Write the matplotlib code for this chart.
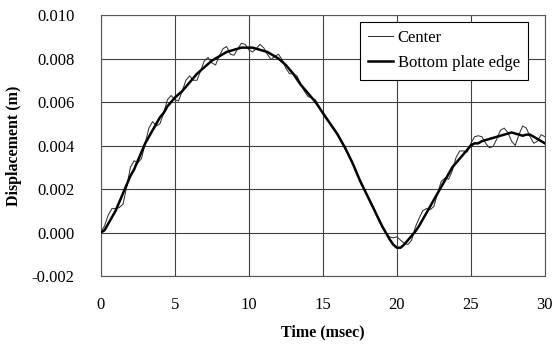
import matplotlib
matplotlib.use("Agg")
import matplotlib.pyplot as plt

# ---- data ----
time_ms = [i * 0.25 for i in range(121)]

edge_e4 = [0, 1, 4, 7, 10, 14, 18, 22, 26, 29,
           33, 37, 41, 44, 47, 50, 53, 55, 58, 60,
           62, 63.5, 65, 67, 69, 71, 73, 74.5, 76, 77.5,
           79, 80, 81, 82, 83, 83.5, 84, 84.5, 85, 85,
           85, 85, 84.5, 84, 83.5, 83, 82, 81, 80, 78.5,
           77, 75, 73, 70.5, 68, 66, 64, 62, 60, 57.5,
           55, 52.5, 50, 47.5, 45, 42, 39, 35.5, 32, 28,
           24, 20.5, 17, 13.5, 10, 6.5, 3, 0, -3, -5.5,
           -7, -7, -5.5, -3.5, -1.5, 0.5, 3, 6, 9, 12,
           15, 18, 21, 24, 27, 30, 32, 34, 36, 38,
           40, 41, 41, 42, 42.5, 43, 43.5, 44, 44.5, 45,
           45.5, 46, 45.5, 45, 44.5, 45, 45, 44, 43, 42,
           41]

center_e4 = [0, 3, 8, 11, 11, 11.5, 13, 21, 30, 33,
             32, 34, 41, 48, 51, 49, 50, 55, 61, 63,
             61, 60.5, 65, 70, 72, 70, 70, 74.5, 79, 80.5,
             78, 77, 81, 84.5, 85.5, 82, 81.5, 84.5, 87, 86.5,
             84, 83, 84.5, 86.5, 85, 82, 79.5, 81, 82, 79.5,
             75.5, 73, 73, 72, 68.5, 65, 62.5, 62, 61, 58,
             54.5, 52, 50, 48, 45.5, 41.5, 38.5, 35.5, 32.5, 28.5,
             23.5, 20, 17, 14, 10.5, 6, 2.5, 0, -2, -2.5,
             -2, -3.5, -5, -5.5, -3.5, 2.5, 6.5, 10, 11, 10.5,
             12, 18, 23.5, 25, 24.5, 28.5, 34.5, 37.5, 37.5, 37,
             41, 44, 44.5, 44, 41, 39, 39.5, 43, 47, 48,
             46, 42, 40, 45, 49, 48, 44, 41, 42, 45,
             44]

edge = [v * 1e-4 for v in edge_e4]
center = [v * 1e-4 for v in center_e4]

x_ticks = [0, 5, 10, 15, 20, 25, 30]
y_ticks = [-0.002, 0.000, 0.002, 0.004, 0.006, 0.008, 0.010]
y_tick_labels = ["-0.002", "0.000", "0.002", "0.004", "0.006", "0.008", "0.010"]

# ---- plot ----
plt.rcParams['font.family'] = ['Liberation Serif', 'DejaVu Serif']

fig = plt.figure(figsize=(5.6, 3.45), dpi=100)
ax = fig.add_axes([0.180, 0.200, 0.793, 0.7565])

ax.plot(time_ms, center, color='#333333', lw=0.75, label='Center', zorder=3)
ax.plot(time_ms, edge, color='black', lw=1.8, label='Bottom plate edge', zorder=4)

ax.set_xlim(0, 30)
ax.set_ylim(-0.002, 0.010)
ax.set_xticks(x_ticks)
ax.set_xticklabels([str(t) for t in x_ticks])
ax.set_yticks(y_ticks)
ax.set_yticklabels(y_tick_labels)
ax.tick_params(axis='both', length=0, labelsize=12)
ax.tick_params(axis='y', pad=19)
ax.tick_params(axis='x', pad=15)

ax.grid(True, color='#404040', lw=0.8)
ax.set_axisbelow(True)
for s in ax.spines.values():
    s.set_color('#555555')
    s.set_linewidth(0.8)

ax.set_xlabel('Time (msec)', fontsize=11.5, fontweight='bold', labelpad=8)
ax.set_ylabel('Displacement (m)', fontsize=11.5, fontweight='bold')
ax.yaxis.set_label_coords(-0.177, 0.5)

leg = ax.legend(loc='upper right', bbox_to_anchor=(0.962, 0.974), borderaxespad=0,
                fontsize=12, handlelength=1.45, handletextpad=0.3,
                labelspacing=0.55, fancybox=False, framealpha=1,
                edgecolor='black', borderpad=0.5)
leg.get_frame().set_linewidth(0.8)

fig.savefig('out.png', dpi=100)
